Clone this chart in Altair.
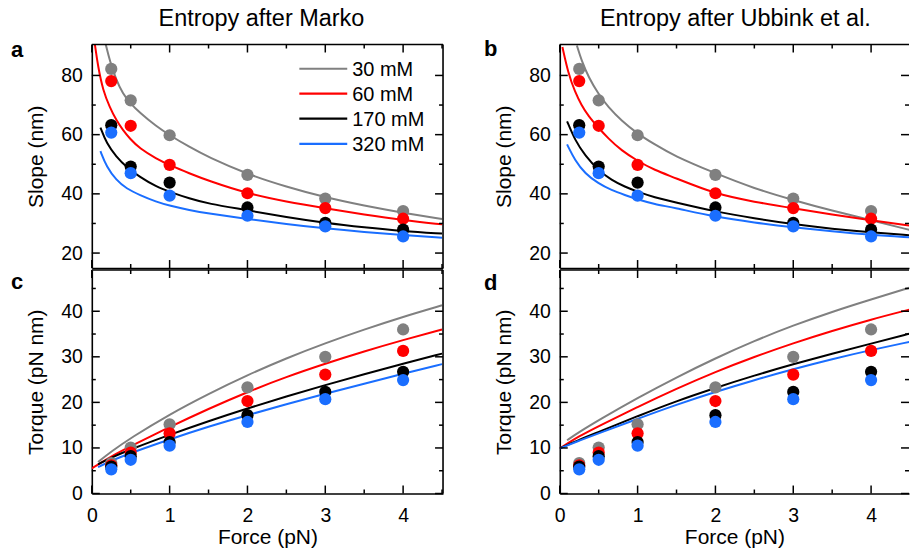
import altair as alt
import pandas as pd

FONT = "Liberation Sans"

# salt concentrations and their colours
conc = ["30 mM", "60 mM", "170 mM", "320 mM"]
colors = ["#808080", "#ff0000", "#000000", "#1a6eff"]

# measured data (same in both columns)
force_pts = [0.25, 0.5, 1, 2, 3, 4]
slope_pts = {
    "30 mM": [82.2, 71.6, 59.8, 46.4, 38.4, 34.2],
    "60 mM": [78.1, 63.0, 49.8, 40.2, 35.2, 31.6],
    "170 mM": [63.2, 49.2, 43.8, 35.4, 30.2, 27.9],
    "320 mM": [60.7, 47.0, 39.4, 32.6, 29.0, 25.6],
}
torque_pts = {
    "30 mM": [6.7, 10.1, 15.2, 23.3, 30.0, 36.0],
    "60 mM": [6.2, 9.0, 13.2, 20.3, 26.1, 31.3],
    "170 mM": [5.9, 8.2, 11.3, 17.2, 22.3, 26.7],
    "320 mM": [5.3, 7.4, 10.5, 15.7, 20.7, 24.9],
}

# model curves, entropy after Marko
marko_slope = {
    "30 mM": ([0.18, 0.23, 0.316, 0.40, 0.487, 0.615, 0.829, 1.0, 1.256, 1.49, 2, 2.5, 3, 3.5, 4, 4.5],
              [90.4, 85.0, 78.3, 73.8, 70.8, 67.4, 62.8, 59.8, 55.8, 52.5, 46.6, 42.4, 38.8, 36.0, 33.6, 31.5]),
    "60 mM": ([0.04, 0.081, 0.145, 0.23, 0.316, 0.40, 0.487, 0.615, 0.829, 1.0, 1.256, 1.49, 2, 2.5, 3, 3.5, 4, 4.5],
              [90.4, 82.8, 74.9, 69.3, 64.8, 61.5, 58.7, 55.3, 51.9, 49.7, 46.9, 44.5, 40.1, 37.3, 35.1, 33.0, 31.1, 29.7]),
    "170 mM": ([0.111, 0.19, 0.316, 0.444, 0.615, 0.829, 1.0, 1.256, 1.49, 2, 2.5, 3, 3.5, 4, 4.5],
               [62.4, 57.0, 52.5, 49.1, 45.7, 42.4, 40.7, 38.4, 36.7, 34.5, 32.1, 30.2, 28.7, 27.4, 26.6]),
    "320 mM": ([0.111, 0.19, 0.316, 0.444, 0.615, 0.829, 1.0, 1.256, 1.49, 2, 2.5, 3, 3.5, 4, 4.5],
               [54.4, 49.1, 44.6, 41.8, 39.6, 37.3, 36.0, 34.5, 33.4, 31.5, 29.8, 28.3, 27.1, 26.1, 25.2]),
}
marko_torque = {
    "30 mM": ([0.08, 0.25, 0.5, 1, 1.5, 2, 2.5, 3, 3.5, 4, 4.5],
              [6.9, 9.2, 12.2, 17.4, 21.9, 26.0, 29.7, 33.0, 36.0, 38.8, 41.3]),
    "60 mM": ([0, 0.25, 0.5, 1, 1.5, 2, 2.5, 3, 3.5, 4, 4.5],
              [5.5, 8.2, 10.4, 14.6, 18.6, 22.3, 25.6, 28.5, 31.2, 33.7, 36.0]),
    "170 mM": ([0.08, 0.25, 0.5, 1, 1.5, 2, 2.5, 3, 3.5, 4, 4.5],
               [6.4, 7.9, 9.7, 12.9, 15.9, 18.7, 21.3, 23.8, 26.2, 28.5, 30.7]),
    "320 mM": ([0.08, 0.25, 0.5, 1, 1.5, 2, 2.5, 3, 3.5, 4, 4.5],
               [5.8, 7.2, 8.9, 11.9, 14.7, 17.2, 19.6, 21.9, 24.1, 26.3, 28.4]),
}

# model curves, entropy after Ubbink et al.
ubbink_slope = {
    "30 mM": ([0.22, 0.28, 0.37, 0.495, 0.623, 0.79, 1.0, 1.22, 1.457, 2, 2.5, 3, 3.5, 4, 4.5],
              [90.1, 85.0, 79.4, 73.8, 69.3, 64.8, 60.3, 56.7, 53.0, 46.9, 41.8, 37.9, 34.3, 31.1, 27.8]),
    "60 mM": ([0.034, 0.11, 0.196, 0.28, 0.37, 0.495, 0.623, 0.79, 1.0, 1.22, 1.457, 2, 2.5, 3, 3.5, 4, 4.5],
              [89.6, 80.6, 74.4, 69.9, 66.2, 62.4, 58.7, 54.7, 51.1, 48.0, 45.7, 39.9, 37.3, 35.1, 33.0, 31.1, 29.3]),
    "170 mM": ([0.094, 0.196, 0.324, 0.495, 0.666, 0.837, 1.0, 1.22, 1.457, 2, 2.5, 3, 3.5, 4, 4.5],
               [64.5, 58.1, 53.0, 48.0, 44.6, 42.4, 40.7, 38.8, 37.3, 34.0, 31.7, 29.7, 28.2, 27.0, 26.0]),
    "320 mM": ([0.094, 0.196, 0.324, 0.495, 0.666, 0.837, 1.0, 1.22, 1.457, 2, 2.5, 3, 3.5, 4, 4.5],
               [56.7, 51.3, 46.9, 43.5, 41.2, 39.6, 38.1, 36.5, 35.4, 32.2, 30.3, 28.7, 27.3, 26.1, 25.3]),
}
ubbink_torque = {
    "30 mM": ([0.094, 0.25, 0.5, 1, 1.5, 2, 2.5, 3, 3.5, 4, 4.5],
              [11.7, 13.5, 16.1, 21.0, 25.5, 29.7, 33.5, 36.9, 39.9, 42.6, 45.2]),
    "60 mM": ([0, 0.25, 0.5, 1, 1.5, 2, 2.5, 3, 3.5, 4, 4.5],
              [9.9, 12.6, 14.8, 19.0, 23.0, 26.7, 30.0, 33.0, 35.7, 38.2, 40.4]),
    "170 mM": ([0, 0.25, 0.5, 1, 1.5, 2, 2.5, 3, 3.5, 4, 4.5],
               [9.9, 11.8, 13.5, 17.0, 20.3, 23.2, 25.9, 28.4, 30.7, 32.9, 35.1]),
    "320 mM": ([0, 0.25, 0.5, 1, 1.5, 2, 2.5, 3, 3.5, 4, 4.5],
               [9.9, 11.6, 13.2, 16.4, 19.5, 22.3, 24.9, 27.3, 29.5, 31.5, 33.3]),
}

# tick positions
x_major = [0, 1, 2, 3, 4]
x_minor = [0.5, 1.5, 2.5, 3.5, 4.5]
slope_major = [20, 40, 60, 80]
slope_minor = [30, 50, 70]
torque_major = [0, 10, 20, 30, 40]
torque_minor = [5, 15, 25, 35, 45]

W_LEFT, W_RIGHT, H = 352, 350, 224
PX_PER_PN = 78
MAJ, MIN = 8, 4
EDGE = 1.6

# legend layout inside panel a (pixels from the plot's top-left corner)
LEG_X0, LEG_X1, LEG_TX = 208, 256, 261
LEG_ROWS = [24.3, 49.2, 74.3, 99.6]


def long_curves(curves):
    rows = []
    for c in conc:
        fs, vs = curves[c]
        rows += [{"F": f, "V": v, "conc": c} for f, v in zip(fs, vs)]
    return pd.DataFrame(rows)


def long_points(values):
    rows = []
    for c in conc:
        rows += [{"F": f, "V": v, "conc": c} for f, v in zip(force_pts, values[c])]
    return pd.DataFrame(rows)


def panel(curves, pts, ydom, ymaj, ymin, ytitle, width, letter, letter_xy,
          xlabels, title=None, title_x=0, legend=False, right_edge=True):
    xs = alt.Scale(domain=[0, width / PX_PER_PN], nice=False, zero=False)
    ys = alt.Scale(domain=ydom, nice=False, zero=False)
    cs = alt.Scale(domain=conc, range=colors)

    xaxis = alt.Axis(values=x_major, format="d", labels=xlabels,
                     title="Force (pN)" if xlabels else None,
                     ticks=False, tickSize=0, grid=False, domain=True,
                     domainColor="black", domainWidth=EDGE,
                     labelFont=FONT, labelFontSize=19.5, labelColor="black",
                     labelPadding=13.5, labelFlush=False,
                     titleFont=FONT, titleFontSize=21, titleFontWeight="normal",
                     titleColor="black", titlePadding=1)
    yaxis = alt.Axis(values=ymaj, format="d", title=ytitle,
                     ticks=False, tickSize=0, grid=False, domain=True,
                     domainColor="black", domainWidth=EDGE,
                     labelFont=FONT, labelFontSize=19.5, labelColor="black",
                     labelPadding=9.5, labelFlush=False,
                     titleFont=FONT, titleFontSize=21, titleFontWeight="normal",
                     titleColor="black", titlePadding=14)

    X = lambda f: alt.X(f, scale=xs, axis=xaxis)
    Y = lambda f: alt.Y(f, scale=ys, axis=yaxis)

    lines = alt.Chart(long_curves(curves)).mark_line(
        strokeWidth=2, clip=True, interpolate="basis"
    ).encode(
        x=X("F:Q"), y=Y("V:Q"),
        color=alt.Color("conc:N", scale=cs, legend=None),
    )

    dots = alt.Chart(long_points(pts)).mark_circle(size=150, opacity=1).encode(
        x=X("F:Q"), y=Y("V:Q"),
        color=alt.Color("conc:N", scale=cs, legend=None),
    )

    layers = [lines, dots]

    # inward ticks on every side of the frame
    def xticks(vals, length):
        df = pd.DataFrame({"t": vals})
        base = alt.Chart(df).mark_rule(color="black", strokeWidth=1.5)
        return [base.encode(x=X("t:Q"), y=alt.value(H), y2=alt.value(H - length)),
                base.encode(x=X("t:Q"), y=alt.value(0), y2=alt.value(length))]

    def yticks(vals, length):
        df = pd.DataFrame({"t": vals})
        base = alt.Chart(df).mark_rule(color="black", strokeWidth=1.5)
        return [base.encode(y=Y("t:Q"), x=alt.value(0), x2=alt.value(length)),
                base.encode(y=Y("t:Q"), x=alt.value(width), x2=alt.value(width - length))]

    layers += xticks([v for v in x_major if v * PX_PER_PN <= width], MAJ)
    layers += xticks([v for v in x_minor if v * PX_PER_PN <= width], MIN)
    layers += yticks(ymaj, MAJ)
    layers += yticks(ymin, MIN)

    # top (and right) edges of the frame
    one = pd.DataFrame({"s": [letter]})
    layers.append(alt.Chart(one).mark_rule(color="black", strokeWidth=EDGE).encode(
        x=alt.value(0), x2=alt.value(width), y=alt.value(0)))
    if right_edge:
        layers.append(alt.Chart(one).mark_rule(color="black", strokeWidth=EDGE).encode(
            x=alt.value(width), y=alt.value(0), y2=alt.value(H)))

    # panel letter
    layers.append(alt.Chart(one).mark_text(
        font=FONT, fontSize=22, fontWeight="bold", align="left",
        baseline="alphabetic", color="black"
    ).encode(text="s:N", x=alt.value(letter_xy[0]), y=alt.value(letter_xy[1])))

    # column heading above the top panels
    if title:
        head = pd.DataFrame({"h": [title]})
        layers.append(alt.Chart(head).mark_text(
            font=FONT, fontSize=23.5, align="center", baseline="alphabetic",
            color="black"
        ).encode(text="h:N", x=alt.value(title_x), y=alt.value(-19)))

    # legend: a coloured line and a label per concentration
    if legend:
        for c, col, ry in zip(conc, colors, LEG_ROWS):
            entry = pd.DataFrame({"conc": [c]})
            layers.append(alt.Chart(entry).mark_rule(color=col, strokeWidth=2.2).encode(
                x=alt.value(LEG_X0), x2=alt.value(LEG_X1), y=alt.value(ry)))
            layers.append(alt.Chart(entry).mark_text(
                font=FONT, fontSize=20, align="left", baseline="middle", color="black"
            ).encode(text="conc:N", x=alt.value(LEG_TX), y=alt.value(ry + 1.2)))

    return alt.layer(*layers).properties(width=width, height=H)


slope_dom = [14.95, 90.45]
torque_dom = [0, 49.05]

pa = panel(marko_slope, slope_pts, slope_dom, slope_major, slope_minor, "Slope (nm)",
           W_LEFT, "a", (-81, 13), False, title="Entropy after Marko", title_x=170,
           legend=True)
pb = panel(ubbink_slope, slope_pts, slope_dom, slope_major, slope_minor, "Slope (nm)",
           W_RIGHT, "b", (-76, 11.5), False, title="Entropy after Ubbink et al.",
           title_x=176, right_edge=False)
pc = panel(marko_torque, torque_pts, torque_dom, torque_major, torque_minor,
           "Torque (pN nm)", W_LEFT, "c", (-81, 19.5), True)
pd_ = panel(ubbink_torque, torque_pts, torque_dom, torque_major, torque_minor,
            "Torque (pN nm)", W_RIGHT, "d", (-76, 20), True, right_edge=False)

top = alt.hconcat(pa, pb, spacing=40).resolve_scale(color="independent")
bottom = alt.hconcat(pc, pd_, spacing=40).resolve_scale(color="independent")

chart = alt.vconcat(top, bottom, spacing=0).resolve_scale(color="independent").properties(
    padding={"left": 11, "top": 6, "right": 0, "bottom": 0},
    background="white",
).configure_view(stroke=None)

chart.save("out.html", embed_options={"renderer": "svg", "actions": False})
